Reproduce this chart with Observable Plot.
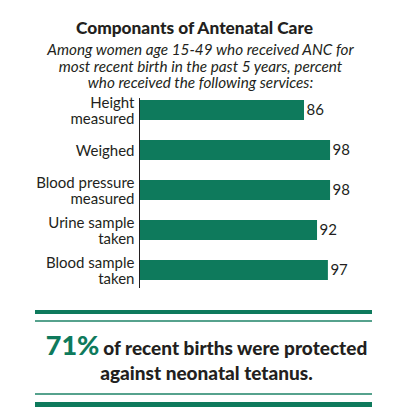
<!DOCTYPE html>
<html>
<head>
<meta charset="utf-8">
<script src="https://cdn.jsdelivr.net/npm/d3@7"></script>
<script src="https://cdn.jsdelivr.net/npm/@observablehq/plot@0.6"></script>
<style>
  html, body { margin: 0; padding: 0; background: #fff; }
  body { width: 401px; height: 415px; position: relative; overflow: hidden; font-family: Lato, "Open Sans", sans-serif; color: #231f20; }
  .abs { position: absolute; left: 0; width: 401px; text-align: center; white-space: nowrap; }
  #title { top: 18px; font-size: 17.3px; font-weight: 900; line-height: 20px; left: -6px; }
  #subtitle { top: 41px; font-size: 15.3px; font-style: italic; line-height: 16.5px; left: 0; }
  #chart { position: absolute; left: 0; top: 90px; }
  .rule { position: absolute; left: 35px; width: 337px; background: #0e7a5c; }
  #note { top: 333px; font-weight: 900; line-height: 24px; left: 6px; }
  #note .pct { color: #0e7a5c; font-size: 27px; }
  #note .txt { font-size: 19px; }
</style>
</head>
<body>
<div id="title" class="abs">Componants of Antenatal Care</div>
<div id="subtitle" class="abs">Among women age 15-49 who received ANC for<br>most recent birth in the past 5 years, percent<br>who received the following services:</div>
<div id="chart"></div>
<div class="rule" style="top:310px;height:4px;"></div>
<div class="rule" style="top:320px;height:2px;opacity:0.7;"></div>
<div id="note" class="abs"><span class="pct">71%</span> <span class="txt">of recent births were protected<br>against neonatal tetanus.</span></div>
<div class="rule" style="top:393px;height:2px;opacity:0.7;"></div>
<div class="rule" style="top:402px;height:5px;"></div>
<script>
const services = ["Height\nmeasured", "Weighed", "Blood pressure\nmeasured", "Urine sample\ntaken", "Blood sample\ntaken"];
const percents = [86, 98, 98, 92, 97];

const data = services.map((s, i) => ({service: s, value: percents[i]}));
const green = "#0e7a5c";
const ink = "#231f20";

const chart = Plot.plot({
  width: 401,
  height: 200,
  marginLeft: 139,
  marginRight: 66.6,
  marginTop: 8,
  marginBottom: 2,
  style: {fontFamily: "Lato, 'Open Sans', sans-serif", fontSize: "15px", color: ink, background: "transparent"},
  x: {domain: [10, 100], clamp: true, axis: null},
  y: {domain: services, paddingInner: 0.49, paddingOuter: 0.12, align: 0.2, label: null},
  marks: [
    Plot.barX(data, {x: "value", y: "service", fill: green}),
    Plot.ruleX([10], {stroke: ink, strokeWidth: 1}),
    Plot.text(data, {x: "value", y: "service", text: d => String(d.value), textAnchor: "start", dx: 2, fill: ink, fontSize: 15}),
    Plot.axisY({tickSize: 0, tickPadding: 5, fontSize: 15, fill: ink, lineHeight: 1.1, label: null})
  ]
});
document.getElementById("chart").appendChild(chart);
</script>
</body>
</html>
